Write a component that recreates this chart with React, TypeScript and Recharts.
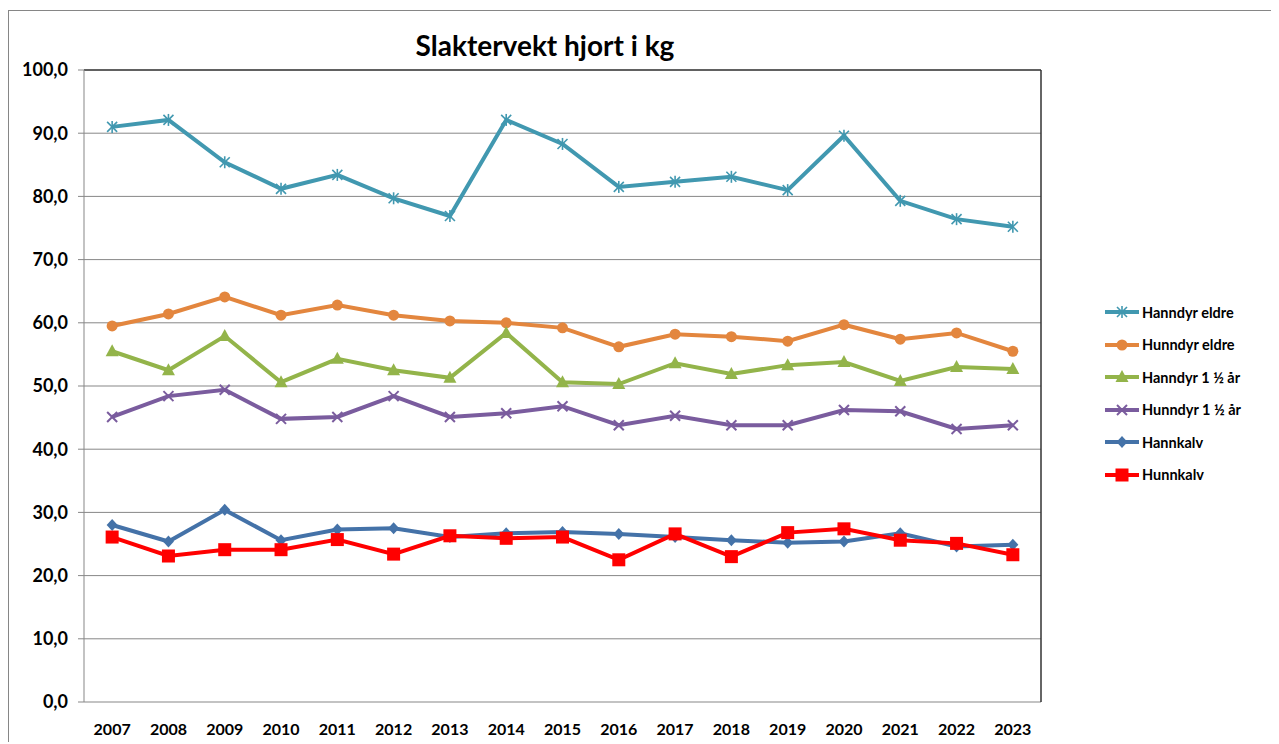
import { LineChart, Line, XAxis, YAxis, CartesianGrid, ReferenceLine } from 'recharts'

const years = ['2007', '2008', '2009', '2010', '2011', '2012', '2013', '2014', '2015', '2016', '2017', '2018', '2019', '2020', '2021', '2022', '2023']

const hanndyrEldre = [91.0, 92.1, 85.4, 81.2, 83.4, 79.7, 76.9, 92.1, 88.3, 81.5, 82.3, 83.1, 81.0, 89.6, 79.3, 76.4, 75.2]
const hunndyrEldre = [59.5, 61.4, 64.1, 61.2, 62.8, 61.2, 60.3, 60.0, 59.2, 56.2, 58.2, 57.8, 57.1, 59.7, 57.4, 58.4, 55.5]
const hanndyrUng = [55.5, 52.5, 57.9, 50.6, 54.3, 52.5, 51.3, 58.4, 50.6, 50.3, 53.6, 51.9, 53.3, 53.8, 50.8, 53.0, 52.7]
const hunndyrUng = [45.1, 48.4, 49.4, 44.8, 45.1, 48.4, 45.1, 45.7, 46.8, 43.8, 45.3, 43.8, 43.8, 46.2, 46.0, 43.2, 43.8]
const hannkalv = [28.0, 25.4, 30.4, 25.6, 27.3, 27.5, 26.1, 26.7, 26.9, 26.6, 26.1, 25.6, 25.2, 25.4, 26.7, 24.6, 24.9]
const hunnkalv = [26.1, 23.1, 24.1, 24.1, 25.7, 23.4, 26.3, 25.9, 26.1, 22.5, 26.6, 23.0, 26.8, 27.4, 25.6, 25.1, 23.3]

const yTicks = [0, 10, 20, 30, 40, 50, 60, 70, 80, 90, 100]

type Shape = 'star' | 'circle' | 'triangle' | 'cross' | 'diamond' | 'square'

const series: { key: string; name: string; color: string; shape: Shape; values: number[] }[] = [
  { key: 'hanndyrEldre', name: 'Hanndyr eldre', color: '#4198B0', shape: 'star', values: hanndyrEldre },
  { key: 'hunndyrEldre', name: 'Hunndyr eldre', color: '#E3863E', shape: 'circle', values: hunndyrEldre },
  { key: 'hanndyrUng', name: 'Hanndyr 1 ½ år', color: '#93B44A', shape: 'triangle', values: hanndyrUng },
  { key: 'hunndyrUng', name: 'Hunndyr 1 ½ år', color: '#7A5C9E', shape: 'cross', values: hunndyrUng },
  { key: 'hannkalv', name: 'Hannkalv', color: '#4472A8', shape: 'diamond', values: hannkalv },
  { key: 'hunnkalv', name: 'Hunnkalv', color: '#FF0000', shape: 'square', values: hunnkalv },
]

// pos = middle of each year's band on a 0..17 scale, so tick marks can sit on the band edges
const data = years.map((year, i) => {
  const row: Record<string, string | number> = { year, pos: i + 0.5 }
  for (const s of series) row[s.key] = s.values[i]
  return row
})

const bandEdges = Array.from({ length: years.length + 1 }, (_, i) => i)

const FONT = 'Lato, "Open Sans", sans-serif'

function Marker({ cx, cy, shape, color }: { cx: number; cy: number; shape: Shape; color: string }) {
  if (cx == null || cy == null) return null
  switch (shape) {
    case 'star':
      return (
        <g stroke={color} strokeWidth={1.6}>
          <line x1={cx - 5} y1={cy - 5} x2={cx + 5} y2={cy + 5} />
          <line x1={cx - 5} y1={cy + 5} x2={cx + 5} y2={cy - 5} />
          <line x1={cx} y1={cy - 6} x2={cx} y2={cy + 6} />
        </g>
      )
    case 'circle':
      return <circle cx={cx} cy={cy} r={5.5} fill={color} />
    case 'triangle':
      return <polygon points={`${cx},${cy - 7} ${cx + 6.5},${cy + 5} ${cx - 6.5},${cy + 5}`} fill={color} />
    case 'cross':
      return (
        <g stroke={color} strokeWidth={2}>
          <line x1={cx - 5} y1={cy - 5} x2={cx + 5} y2={cy + 5} />
          <line x1={cx - 5} y1={cy + 5} x2={cx + 5} y2={cy - 5} />
        </g>
      )
    case 'diamond':
      return <polygon points={`${cx},${cy - 6} ${cx + 5.5},${cy} ${cx},${cy + 6} ${cx - 5.5},${cy}`} fill={color} />
    case 'square':
      return <rect x={cx - 6.5} y={cy - 6.5} width={13} height={13} fill={color} />
  }
}

function EdgeTick(props: any) {
  const { x, y } = props
  return <line x1={x} y1={y} x2={x} y2={y + 6} stroke="#878787" strokeWidth={1} />
}

function fmt(v: number): string {
  return v.toFixed(1).replace('.', ',')
}

export default function App() {
  return (
    <div style={{ position: 'relative', width: 1271, height: 734, overflow: 'hidden', fontFamily: FONT }}>
      <div
        style={{
          position: 'absolute', left: 0, top: 2, width: 1400, height: 900,
          borderLeft: '1px solid #868686', borderTop: '1px solid #868686',
        }}
      />
      <div
        style={{
          position: 'absolute', left: 537, top: 20, transform: 'translateX(-50%)',
          fontSize: 28, fontWeight: 700, color: '#000', whiteSpace: 'nowrap',
        }}
      >
        Slaktervekt hjort i kg
      </div>
      <div style={{ position: 'absolute', left: 0, top: 0 }}>
        <LineChart width={1271} height={734} data={data} margin={{ top: 62, right: 238, left: 0, bottom: 0 }}>
          <CartesianGrid horizontal vertical={false} stroke="#878787" strokeWidth={1} />
          <XAxis
            xAxisId="edge"
            type="number"
            dataKey="pos"
            domain={[0, years.length]}
            ticks={bandEdges}
            tick={<EdgeTick />}
            tickLine={false}
            axisLine={{ stroke: '#878787' }}
            tickSize={0}
            tickMargin={0}
            height={0}
            interval={0}
          />
          <XAxis
            xAxisId="main"
            dataKey="year"
            scale="band"
            height={40}
            interval={0}
            tickLine={false}
            axisLine={false}
            tickMargin={16}
            tick={{ fontSize: 16, fontWeight: 700, fill: '#000', fontFamily: FONT }}
          />
          <YAxis
            width={76}
            domain={[0, 100]}
            ticks={yTicks}
            interval={0}
            tickFormatter={fmt}
            axisLine={{ stroke: '#878787' }}
            tickLine={{ stroke: '#878787' }}
            tickSize={6}
            tickMargin={10}
            tick={{ fontSize: 18, fontWeight: 700, fill: '#000', fontFamily: FONT }}
          />
          <ReferenceLine y={100} xAxisId="edge" stroke="#000" strokeWidth={1.2} />
          <ReferenceLine x={years.length} xAxisId="edge" stroke="#333" strokeWidth={1.5} />
          {series.map((s) => (
            <Line
              key={s.key}
              xAxisId="edge"
              dataKey={s.key}
              name={s.name}
              stroke={s.color}
              strokeWidth={4}
              isAnimationActive={false}
              activeDot={false}
              dot={(p: any) => <Marker key={`${s.key}-${p.index}`} cx={p.cx} cy={p.cy} shape={s.shape} color={s.color} />}
            />
          ))}
        </LineChart>
      </div>
      <div style={{ position: 'absolute', left: 1096, top: 288 }}>
        {series.map((s) => (
          <div key={s.key} style={{ display: 'flex', alignItems: 'center', height: 32.5 }}>
            <svg width={36} height={16} style={{ marginRight: 2 }}>
              <line x1={1} y1={8} x2={35} y2={8} stroke={s.color} strokeWidth={4} />
              <Marker cx={18} cy={8} shape={s.shape} color={s.color} />
            </svg>
            <span style={{ fontSize: 14.5, fontWeight: 700, color: '#000', whiteSpace: 'nowrap' }}>{s.name}</span>
          </div>
        ))}
      </div>
    </div>
  )
}
